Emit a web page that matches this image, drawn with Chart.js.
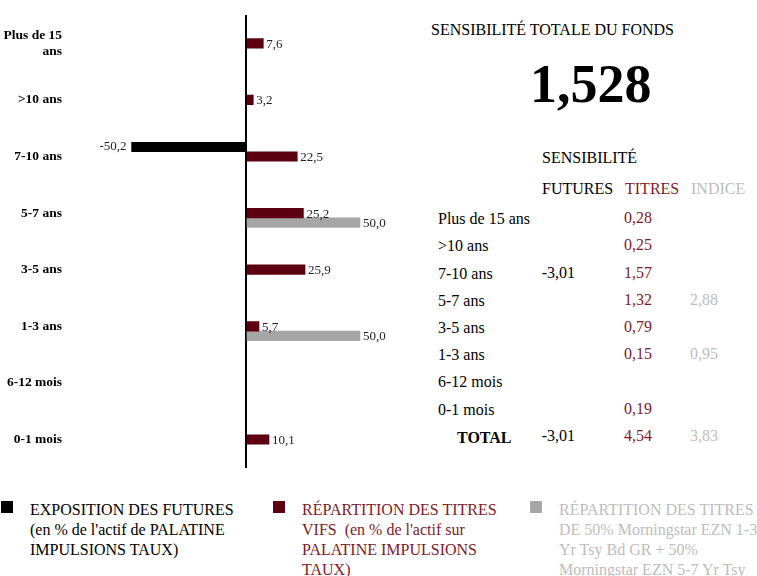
<!DOCTYPE html>
<html>
<head>
<meta charset="utf-8">
<script src="https://cdn.jsdelivr.net/npm/chart.js@4.4.1/dist/chart.umd.min.js"></script>
<style>
  body { margin: 0; width: 757px; height: 576px; overflow: hidden; background: #fff;
         font-family: 'Liberation Serif', 'Times New Roman', serif; color: #000; }
  #wrap { position: absolute; left: 0; top: 0; width: 430px; height: 488px; }
  .t { position: absolute; font-size: 16px; line-height: 20px; white-space: pre; }
  .r { text-align: right; }
  .red { color: #7d1a2b; }
  .grey { color: #bdbdbd; }
  .sq { position: absolute; width: 12px; height: 12px; }
</style>
</head>
<body>
<div id="wrap"><canvas id="chart"></canvas></div>
<div id="panel"></div>
<script>
var categories = ['Plus de 15 ans', '>10 ans', '7-10 ans', '5-7 ans', '3-5 ans', '1-3 ans', '6-12 mois', '0-1 mois'];
var futures = [null, null, -50.2, null, null, null, null, null];
var titres = [7.6, 3.2, 22.5, 25.2, 25.9, 5.7, null, 10.1];
var indice = [null, null, null, 50.0, null, 50.0, null, null];

var sensFutures = [null, null, -3.01, null, null, null, null, null];
var sensTitres = [0.28, 0.25, 1.57, 1.32, 0.79, 0.15, null, 0.19];
var sensIndice = [null, null, null, 2.88, null, 0.95, null, null];
var totals = [-3.01, 4.54, 3.83];
var totalFonds = 1.528;

var legendItems = [
  ['EXPOSITION DES FUTURES', '(en % de l\'actif de PALATINE', 'IMPULSIONS TAUX)'],
  ['RÉPARTITION DES TITRES', 'VIFS  (en % de l\'actif sur', 'PALATINE IMPULSIONS', 'TAUX)'],
  ['RÉPARTITION DES TITRES', 'DE 50% Morningstar EZN 1-3', 'Yr Tsy Bd GR + 50%', 'Morningstar EZN 5-7 Yr Tsy']
];

var colors = ['#000000', '#5c0011', '#a6a6a6'];

function fmt(v, d) { return v.toFixed(d).replace('.', ','); }

var valueLabels = {
  id: 'valueLabels',
  afterDatasetsDraw: function (chart) {
    var ctx = chart.ctx;
    ctx.save();
    ctx.font = '13px "Liberation Serif"';
    ctx.fillStyle = '#222';
    ctx.textBaseline = 'middle';
    chart.data.datasets.forEach(function (ds, i) {
      chart.getDatasetMeta(i).data.forEach(function (el, j) {
        var v = ds.data[j];
        if (v === null) return;
        if (v < 0) {
          ctx.textAlign = 'right';
          ctx.fillText(fmt(v, 1), el.x - 5, el.y);
        } else {
          ctx.textAlign = 'left';
          ctx.fillText(fmt(v, 1), el.x + 3, el.y + 1);
        }
      });
    });
    ctx.restore();
  }
};

new Chart(document.getElementById('chart').getContext('2d'), {
  type: 'bar',
  data: {
    labels: categories,
    datasets: [
      { label: 'futures', data: futures, backgroundColor: colors[0] },
      { label: 'titres', data: titres, backgroundColor: colors[1] },
      { label: 'indice', data: indice, backgroundColor: colors[2] }
    ]
  },
  options: {
    indexAxis: 'y',
    responsive: true,
    maintainAspectRatio: false,
    animation: false,
    barThickness: 9.5,
    layout: { padding: { top: 15, right: 4, bottom: 4, left: 0 } },
    plugins: { legend: { display: false }, tooltip: { enabled: false } },
    scales: {
      x: {
        min: -79,
        max: 79,
        ticks: { display: false, stepSize: 79 },
        border: { display: false },
        grid: {
          drawTicks: false,
          lineWidth: 2,
          color: function (c) { return c.tick && c.tick.value === 0 ? '#000' : 'rgba(0,0,0,0)'; }
        }
      },
      y: {
        grid: { display: false, drawTicks: false },
        border: { display: false },
        afterFit: function (scale) { scale.width = 66; },
        ticks: {
          color: '#000',
          padding: 4,
          font: { family: 'Liberation Serif', size: 13.5, weight: 'bold' },
          callback: function (val) {
            var s = this.getLabelForValue(val);
            if (s.length > 10) {
              var k = s.lastIndexOf(' ');
              return [s.slice(0, k), s.slice(k + 1)];
            }
            return s;
          }
        }
      }
    }
  },
  plugins: [valueLabels]
});

// right-hand table and bottom legend
var html = '';
function esc(s) { return s.replace(/&/g, '&amp;').replace(/</g, '&lt;').replace(/>/g, '&gt;'); }
function put(txt, x, yc, cls, style) {
  html += '<div class="t ' + (cls || '') + '" style="left:' + x + 'px;top:' + (yc - 10) + 'px;' + (style || '') + '">' + esc(txt) + '</div>';
}
function putR(txt, right, yc, cls) {
  html += '<div class="t r ' + (cls || '') + '" style="right:' + (757 - right) + 'px;top:' + (yc - 10) + 'px;">' + esc(txt) + '</div>';
}

put('SENSIBILITÉ TOTALE DU FONDS', 431, 30);
html += '<div class="t" style="left:530px;top:52px;font-size:54px;line-height:64px;font-weight:bold;">' + fmt(totalFonds, 3) + '</div>';
put('SENSIBILITÉ', 542, 158);
put('FUTURES', 542, 189);
put('TITRES', 625, 189, 'red');
put('INDICE', 691, 189, 'grey');

var rowY = [218, 245, 273, 300, 327, 354, 381, 409];
categories.forEach(function (c, i) {
  put(c, 438, rowY[i] + 1);
  if (sensFutures[i] !== null) putR(fmt(sensFutures[i], 2), 575, rowY[i]);
  if (sensTitres[i] !== null) putR(fmt(sensTitres[i], 2), 652, rowY[i], 'red');
  if (sensIndice[i] !== null) putR(fmt(sensIndice[i], 2), 718, rowY[i], 'grey');
});
put('TOTAL', 457, 438, '', 'font-weight:bold;');
putR(fmt(totals[0], 2), 575, 436);
putR(fmt(totals[1], 2), 652, 436, 'red');
putR(fmt(totals[2], 2), 718, 436, 'grey');

var legX = [1, 273, 530];
var legCls = ['', 'red', 'grey'];
legendItems.forEach(function (lines, i) {
  html += '<div class="sq" style="left:' + legX[i] + 'px;top:501px;background:' + colors[i] + ';"></div>';
  lines.forEach(function (ln, k) {
    put(ln, legX[i] + 29, 510 + k * 20, legCls[i]);
  });
});
document.getElementById('panel').innerHTML = html;
</script>
</body>
</html>
